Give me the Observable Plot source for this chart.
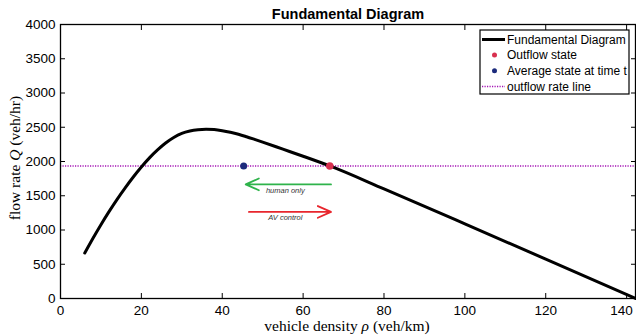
<!DOCTYPE html>
<html><head><meta charset="utf-8">
<script src="https://cdn.jsdelivr.net/npm/d3@7"></script>
<script src="https://cdn.jsdelivr.net/npm/@observablehq/plot@0.6"></script>
<style>body{margin:0;background:#fff}</style>
</head><body><div id="chart"></div>
<script>
// Fundamental diagram curve (density veh/km, flow veh/hr)
const fdDensity = [6, 8, 10, 12, 14, 16, 18, 20, 22, 24, 26, 28, 30, 32, 34, 36, 38, 40, 42, 44, 46, 48, 50, 55, 60, 66.6, 80, 100, 120, 142.2];
const fdFlow    = [664, 876, 1078, 1268, 1448, 1616, 1774, 1920, 2053, 2169, 2270, 2351, 2410, 2445, 2464, 2471, 2466, 2450, 2427, 2398, 2362, 2323, 2283, 2180, 2077, 1935, 1600, 1090, 575, 0];
const outflowRate = 1935;
const outflowDensity = [66.6];
const outflowFlow = [1935];
const avgDensity = [45.3];
const avgFlow = [1935];
// annotation arrows
const arrowNames = ["human only", "AV control"];
const arrowFrom = [66.9, 46.6];
const arrowTo = [45.8, 66.9];
const arrowFlow = [1666, 1264];
const arrowLabelDensity = [55.6, 55.6];
const arrowLabelFlow = [1572, 1177];
const xTicks = [0, 20, 40, 60, 80, 100, 120, 140];
const yTicks = [0, 500, 1000, 1500, 2000, 2500, 3000, 3500, 4000];
const legendLabels = ["Fundamental Diagram", "Outflow state", "Average state at time t", "outflow rate line"];

const fd = fdDensity.map((d, i) => ({d, q: fdFlow[i]}));
const outflow = outflowDensity.map((d, i) => ({d, q: outflowFlow[i]}));
const avg = avgDensity.map((d, i) => ({d, q: avgFlow[i]}));
const arrows = arrowNames.map((name, i) => ({name, x1: arrowFrom[i], x2: arrowTo[i], y: arrowFlow[i], lx: arrowLabelDensity[i], ly: arrowLabelFlow[i]}));

const purple = "#a414b4";
const fmt = d3.format("d");
const plot = Plot.plot({
  width: 636, height: 335,
  marginLeft: 60, marginRight: 1, marginTop: 24, marginBottom: 37,
  x: {domain: [0, 142.2]},
  y: {domain: [0, 4000]},
  style: {fontFamily: "'Liberation Sans', Arial, sans-serif", fontSize: "13.5px", color: "#000", background: "#fff"},
  marks: [
    Plot.ruleY([outflowRate], {stroke: purple, strokeWidth: 1.5, strokeDasharray: "1.2,1.3"}),
    Plot.line(fd, {x: "d", y: "q", stroke: "#000", strokeWidth: 3, curve: "monotone-x"}),
    Plot.arrow(arrows.filter(a => a.name === "human only"), {x1: "x1", x2: "x2", y1: "y", y2: "y", stroke: "#2fb34b", strokeWidth: 1.8, headLength: 12, headAngle: 48}),
    Plot.arrow(arrows.filter(a => a.name === "AV control"), {x1: "x1", x2: "x2", y1: "y", y2: "y", stroke: "#e8262d", strokeWidth: 1.8, headLength: 12, headAngle: 48}),
    Plot.text(arrows, {x: "lx", y: "ly", text: "name", fontStyle: "italic", fontSize: 7.5, fill: "#333"}),
    Plot.dot(avg, {x: "d", y: "q", r: 3.5, fill: "#1c2b7c"}),
    Plot.dot(outflow, {x: "d", y: "q", r: 3.8, fill: "#d8304f"}),
    Plot.frame({stroke: "#000", strokeWidth: 1.3}),
    Plot.axisX(xTicks, {anchor: "bottom", tickSize: -5, tickPadding: 12, tickFormat: fmt, label: null}),
    Plot.axisX(xTicks, {anchor: "top", tickSize: -5, tickFormat: () => "", label: null}),
    Plot.axisY(yTicks, {anchor: "left", tickSize: -5, tickPadding: 10, tickFormat: fmt, label: null}),
    Plot.axisY(yTicks, {anchor: "right", tickSize: -5, tickFormat: () => "", label: null})
  ]
});
document.getElementById("chart").appendChild(plot);

const svg = d3.select(plot);
// keep the last x tick label inside the picture
svg.selectAll("text").filter(function() { return this.textContent === "140"; }).attr("dx", -5);
// title
svg.append("text").attr("x", 348).attr("y", 18.5).attr("text-anchor", "middle")
  .attr("font-family", "'Liberation Sans', Arial, sans-serif").attr("font-weight", "bold").attr("font-size", "14.5px")
  .attr("fill", "#000").text("Fundamental Diagram");
// x label
const xl = svg.append("text").attr("x", 347).attr("y", 331).attr("text-anchor", "middle")
  .attr("font-family", "'Liberation Serif', 'Times New Roman', serif").attr("font-size", "15.5px").attr("fill", "#000");
xl.append("tspan").text("vehicle density ");
xl.append("tspan").attr("font-style", "italic").text("ρ");
xl.append("tspan").text(" (veh/km)");
// y label
const yl = svg.append("text").attr("transform", "translate(20,158) rotate(-90)").attr("text-anchor", "middle")
  .attr("font-family", "'Liberation Serif', 'Times New Roman', serif").attr("font-size", "15.5px").attr("fill", "#000");
yl.append("tspan").text("flow rate ");
yl.append("tspan").attr("font-style", "italic").text("Q");
yl.append("tspan").text(" (veh/hr)");
// legend
svg.append("defs").append("clipPath").attr("id", "lgclip").append("rect").attr("x", 480).attr("y", 30).attr("width", 149).attr("height", 64);
const lg = svg.append("g").attr("font-family", "'Liberation Sans', Arial, sans-serif").attr("font-size", "12px").attr("text-anchor", "start");
lg.append("rect").attr("x", 480).attr("y", 30).attr("width", 149).attr("height", 64).attr("fill", "#fff").attr("stroke", "#000").attr("stroke-width", 1.2);
const rowY = [39.5, 55, 70.8, 86.5];
lg.append("line").attr("x1", 482).attr("x2", 505).attr("y1", rowY[0]).attr("y2", rowY[0]).attr("stroke", "#000").attr("stroke-width", 3);
lg.append("circle").attr("cx", 494.5).attr("cy", rowY[1]).attr("r", 2.5).attr("fill", "#d8304f");
lg.append("circle").attr("cx", 494.5).attr("cy", rowY[2]).attr("r", 2.5).attr("fill", "#1c2b7c");
lg.append("line").attr("x1", 482).attr("x2", 505).attr("y1", rowY[3]).attr("y2", rowY[3]).attr("stroke", purple).attr("stroke-width", 1.3).attr("stroke-dasharray", "1.2,1.3");
const lt = lg.append("g").attr("clip-path", "url(#lgclip)");
legendLabels.forEach((t, i) => {
  lt.append("text").attr("x", 507).attr("y", rowY[i]).attr("dy", "0.35em").attr("text-anchor", "start").attr("fill", "#000").text(t);
});
</script>
</body></html>
